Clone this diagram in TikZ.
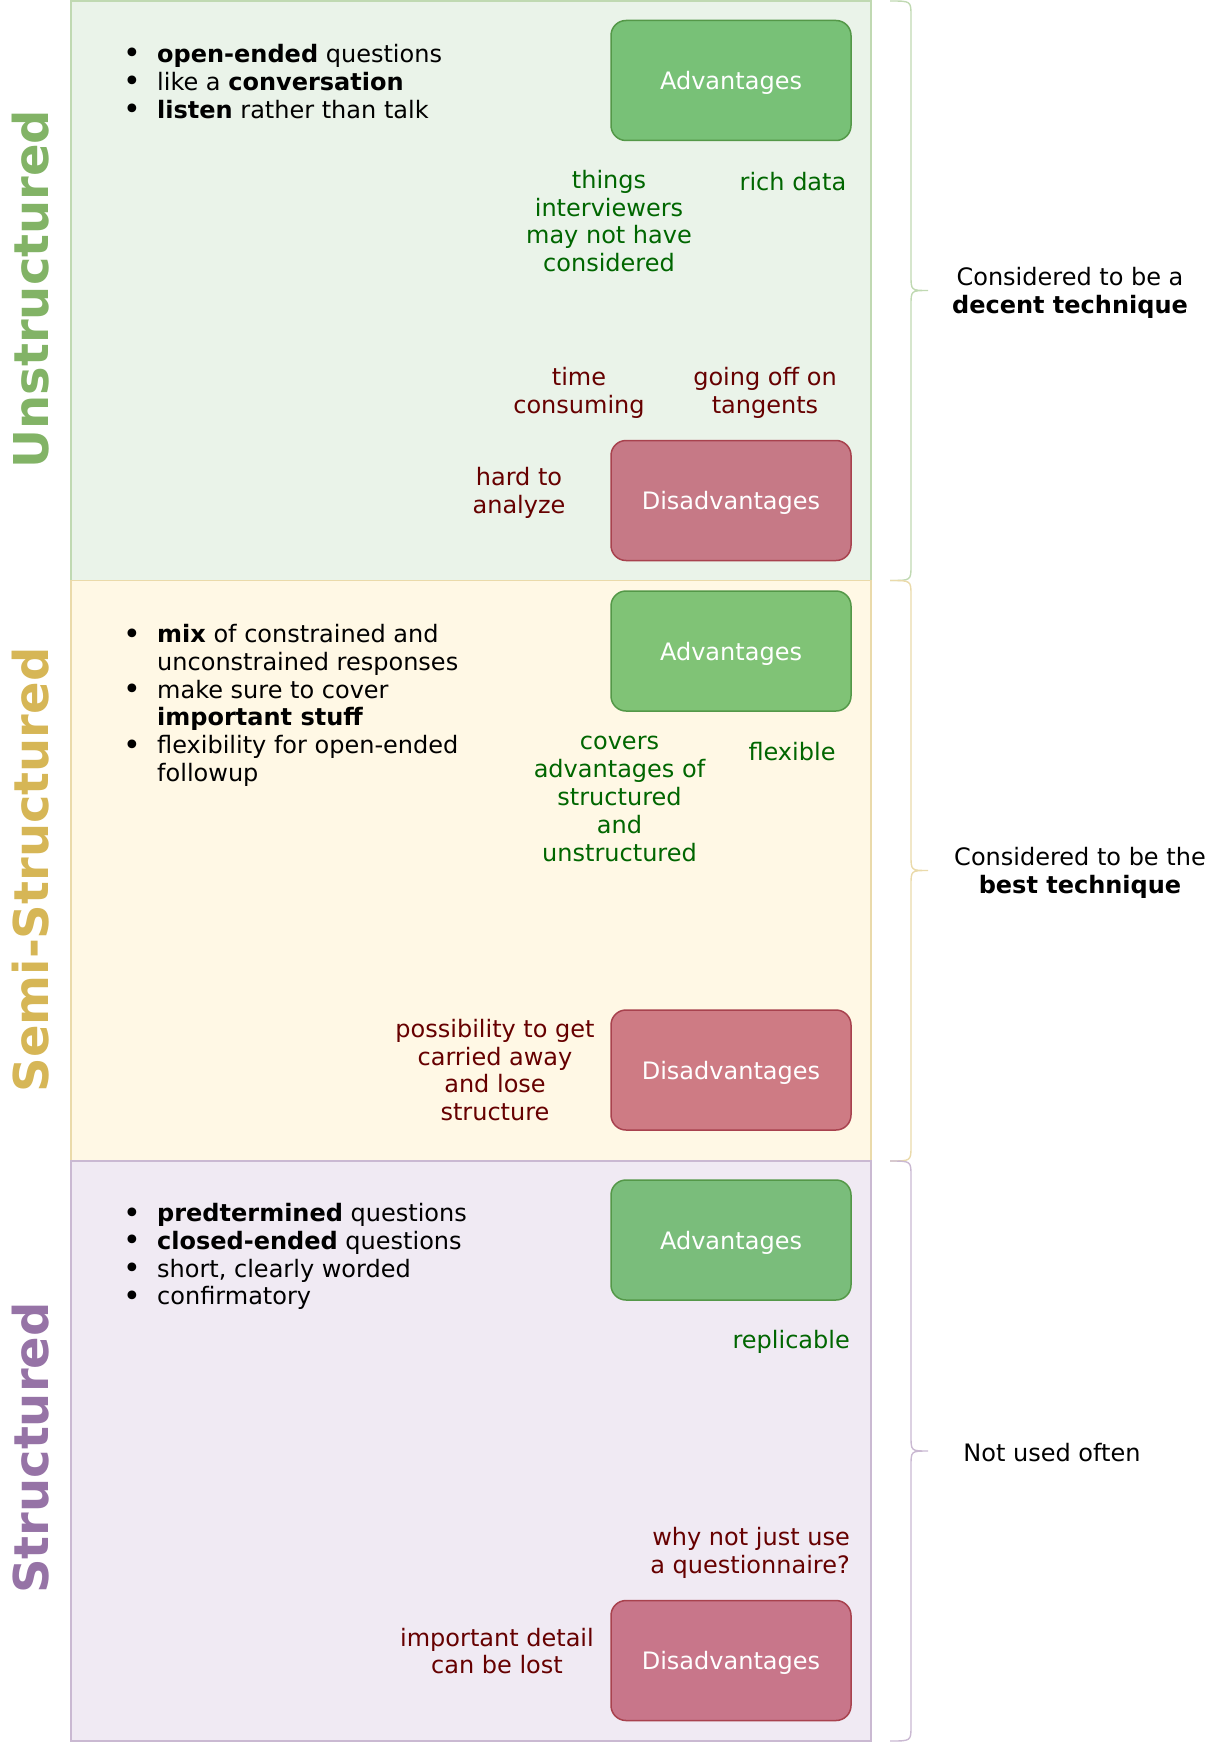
\documentclass[tikz,border=0pt]{standalone}
\usepackage{fontspec}
\setmainfont{DejaVu Sans}
\definecolor{gfill}{RGB}{234,243,233}
\definecolor{gline}{RGB}{192,217,178}
\definecolor{yfill}{RGB}{255,248,229}
\definecolor{yline}{RGB}{234,218,170}
\definecolor{pfill}{RGB}{240,234,243}
\definecolor{pline}{RGB}{202,185,210}
\definecolor{gtitle}{RGB}{130,179,102}
\definecolor{ytitle}{RGB}{214,182,86}
\definecolor{ptitle}{RGB}{150,115,166}
\definecolor{advfill}{RGB}{44,160,44}
\definecolor{disfill}{RGB}{174,41,68}
\definecolor{advline}{RGB}{84,152,72}
\definecolor{disline}{RGB}{168,66,78}
\definecolor{goodtxt}{RGB}{0,102,0}
\definecolor{badtxt}{RGB}{102,0,0}
\newcommand{\bul}{\makebox[33pt][l]{\hspace{-1pt}\raisebox{-1.5pt}{\fontsize{30}{30}\selectfont •}}}
\tikzset{
  section/.style={line width=1.5pt},
  txt/.style={font=\fontsize{24}{27.8}\selectfont, inner sep=0pt, align=center},
  good/.style={txt, text=goodtxt},
  bad/.style={txt, text=badtxt},
  title/.style={rotate=90, font=\fontsize{48}{56}\selectfont\bfseries, inner sep=0pt},
  advbox/.style={draw=advline, line width=1.5pt, fill=advfill, fill opacity=0.6, text opacity=1, text=white,
    rounded corners=15pt, minimum width=240pt, minimum height=120pt, text depth=0pt,
    font=\fontsize{24}{27.8}\selectfont},
  disbox/.style={advbox, draw=disline, fill=disfill},
  blist/.style={anchor=base west, inner sep=0pt, font=\fontsize{24}{27.8}\selectfont},
  brace/.style={line width=1.4pt},
}
\begin{document}
\begin{tikzpicture}[x=1pt,y=-1pt]
\useasboundingbox (0,0) rectangle (1212,1744);
% sections
\draw[section, draw=gline, fill=gfill] (71,1) rectangle (871,580.5);
\draw[section, draw=yline, fill=yfill] (71,580.5) rectangle (871,1161);
\draw[section, draw=pline, fill=pfill] (71,1161) rectangle (871,1741);
% titles
\node[title, text=gtitle] (tu) at (31,289) {Unstructured};
\node[title, text=ytitle] (ts) at (31,870) {Semi-Structured};
\node[title, text=ptitle] (tp) at (31,1448) {Structured};
% lists
\node[blist] (lu) at (124,62.5) {\begin{tabular}[t]{@{}l@{}l@{}}
\bul & \textbf{open-ended} questions\\
\bul & like a \textbf{conversation}\\
\bul & \textbf{listen} rather than talk
\end{tabular}};
\node[blist] (ls) at (124,642.5) {\begin{tabular}[t]{@{}l@{}l@{}}
\bul & \textbf{mix} of constrained and\\
 & unconstrained responses\\
\bul & make sure to cover\\
 & \textbf{important stuff}\\
\bul & flexibility for open-ended\\
 & followup
\end{tabular}};
\node[blist] (lp) at (124,1221.5) {\begin{tabular}[t]{@{}l@{}l@{}}
\bul & \textbf{predtermined} questions\\
\bul & \textbf{closed-ended} questions\\
\bul & short, clearly worded\\
\bul & confirmatory
\end{tabular}};
% boxes
\node[advbox] (ua) at (731,80.5) {Advantages};
\node[disbox] (ud) at (731,500.5) {Disadvantages};
\node[advbox] (sa) at (731,651) {Advantages};
\node[disbox] (sd) at (731,1070) {Disadvantages};
\node[advbox] (pa) at (731,1240) {Advantages};
\node[disbox] (pd) at (731,1660.5) {Disadvantages};
% unstructured notes
\node[good] (u1) at (609,221) {things\\interviewers\\may not have\\considered};
\node[good] (u2) at (793,182) {rich data};
\node[bad] (u3) at (579,393) {time\\consuming};
\node[bad] (u4) at (765,393) {going off on\\tangents};
\node[bad] (u5) at (519,493) {hard to\\analyze};
% semi notes
\node[good] (s1) at (619.5,799) {covers\\advantages of\\structured\\and\\unstructured};
\node[good] (s2) at (792,752) {flexible};
\node[bad] (s3) at (495,1070) {possibility to get\\carried away\\and lose\\structure};
% structured notes
\node[good, anchor=east] (p1) at (850,1342) {replicable};
\node[bad, anchor=east, align=right] (p2) at (850,1553) {why not just use\\a questionnaire?};
\node[bad] (p3) at (497,1651) {important detail\\can be lost};
% braces
\draw[brace, draw=gline] (890,1) .. controls (911,1) .. (911,16) -- (911,275.5) .. controls (911,290.5) .. (928,290.5)
  .. controls (911,290.5) .. (911,305.5) -- (911,565.5) .. controls (911,580.5) .. (890,580.5);
\draw[brace, draw=yline] (890,580.5) .. controls (911,580.5) .. (911,595.5) -- (911,855.5) .. controls (911,870.5) .. (928,870.5)
  .. controls (911,870.5) .. (911,885.5) -- (911,1146) .. controls (911,1161) .. (890,1161);
\draw[brace, draw=pline] (890,1161) .. controls (911,1161) .. (911,1176) -- (911,1436) .. controls (911,1451) .. (928,1451)
  .. controls (911,1451) .. (911,1466) -- (911,1726) .. controls (911,1741) .. (890,1741);
% brace labels
\node[txt] (bu) at (1070,293) {Considered to be a\\\textbf{decent technique}};
\node[txt] (bs) at (1080,873) {Considered to be the\\\textbf{best technique}};
\node[txt] (bp) at (1052,1453) {Not used often};
\end{tikzpicture}
\end{document}
